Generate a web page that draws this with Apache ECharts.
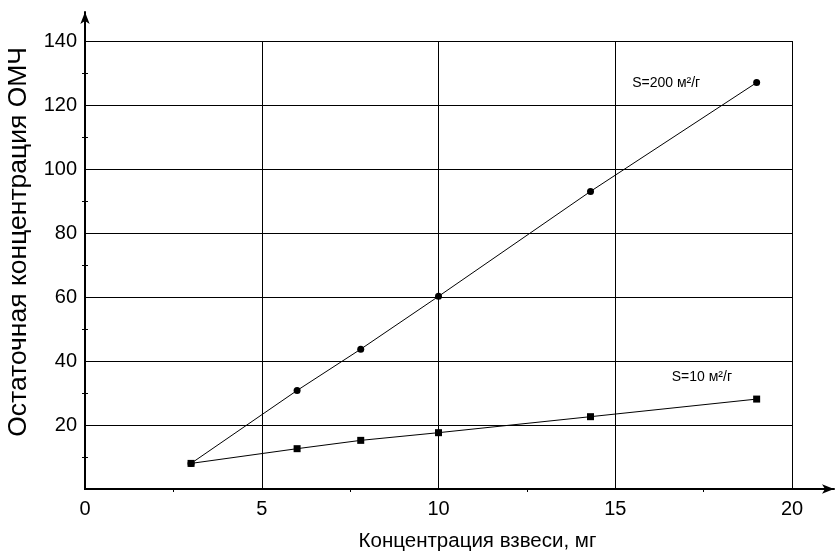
<!DOCTYPE html>
<html><head><meta charset="utf-8">
<script src="https://cdn.jsdelivr.net/npm/echarts@6/dist/echarts.min.js"></script>
<style>html,body{margin:0;padding:0;background:#fff}#c{width:836px;height:552px}</style>
</head><body><div id="c"></div>
<script>
const xValues = [3, 6, 7.8, 10, 14.3, 19];
const s200 = [8, 30.8, 43.7, 60.2, 93, 127];
const s10 = [8, 12.6, 15.2, 17.6, 22.6, 28.1];
const seriesNames = ['S=200 м²/г', 'S=10 м²/г'];
const xTitle = 'Концентрация взвеси, мг';
const yTitle = 'Остаточная концентрация ОМЧ';

const F = '"Liberation Sans", Arial, sans-serif';
const chart = echarts.init(document.getElementById('c'));
const lineStyle = {color: '#000', width: 1};
const hidden = {show: false};
const minor = {show: true, splitNumber: 2, length: 3, lineStyle: {color: '#000'}};
function tag(coord, text) {
  return {
    symbol: 'rect', symbolSize: 1, itemStyle: {color: 'rgba(0,0,0,0)'},
    data: [{coord, label: {show: true, position: 'inside', formatter: text,
            color: '#000', fontSize: 14, fontFamily: F}}]
  };
}
chart.setOption({
  animation: false,
  backgroundColor: '#fff',
  grid: [
    {left: 85, top: 41, width: 707, height: 448, outerBoundsMode: 'none', containLabel: false},
    {left: 85, top: 12, right: 2, bottom: 63, outerBoundsMode: 'none', containLabel: false}
  ],
  xAxis: [
    {gridIndex: 0, type: 'value', min: 0, max: 20, interval: 5,
     axisLine: {show: true, lineStyle: {color: '#000', width: 2}},
     axisTick: {show: false},
     minorTick: Object.assign({inside: true}, minor),
     axisLabel: {color: '#000', fontSize: 20, fontFamily: F, margin: 10},
     splitLine: {show: true, lineStyle: {color: '#000', width: 1}},
     name: xTitle, nameLocation: 'middle', nameGap: 42,
     nameTextStyle: {color: '#000', fontSize: 20.5, fontFamily: F, padding: [0, 0, 0, 78]}},
    {gridIndex: 0, type: 'value', min: 0, max: 20, interval: 5, position: 'top',
     axisLine: {show: true, lineStyle: {color: '#000', width: 2}},
     axisTick: hidden, axisLabel: hidden, splitLine: hidden},
    {gridIndex: 1, type: 'value', min: 0, max: 1,
     axisLine: {show: true, symbol: ['none', 'arrow'], symbolSize: [7, 12], lineStyle: {color: '#000', width: 2}},
     axisTick: hidden, axisLabel: hidden, splitLine: hidden}
  ],
  yAxis: [
    {gridIndex: 0, type: 'value', min: 0, max: 140, interval: 20,
     axisLine: {show: true, lineStyle: {color: '#000', width: 2}},
     axisTick: {show: false},
     minorTick: Object.assign({inside: true}, minor),
     axisLabel: {color: '#000', fontSize: 20, fontFamily: F, margin: 8,
                 formatter: v => v === 0 ? '' : String(v)},
     splitLine: {show: true, lineStyle: {color: '#000', width: 1}},
     name: yTitle, nameLocation: 'middle', nameGap: 53, nameRotate: 90,
     nameTextStyle: {color: '#000', fontSize: 26.5, fontFamily: F, padding: [0, 0, 0, 46]}},
    {gridIndex: 0, type: 'value', min: 0, max: 140, interval: 20, position: 'right',
     axisLine: {show: true, lineStyle: {color: '#000', width: 2}},
     axisTick: hidden,
     minorTick: minor,
     axisLabel: hidden, splitLine: hidden},
    {gridIndex: 1, type: 'value', min: 0, max: 1,
     axisLine: {show: true, symbol: ['none', 'arrow'], symbolSize: [7, 12], lineStyle: {color: '#000', width: 2}},
     axisTick: hidden, axisLabel: hidden, splitLine: hidden}
  ],
  series: [
    {name: seriesNames[0], type: 'line', xAxisIndex: 0, yAxisIndex: 0,
     data: xValues.map((x, i) => [x, s200[i]]),
     symbol: 'circle', symbolSize: 7, lineStyle, itemStyle: {color: '#000'},
     markPoint: tag([16.44, 126.9], seriesNames[0])},
    {name: seriesNames[1], type: 'line', xAxisIndex: 0, yAxisIndex: 0,
     data: xValues.map((x, i) => [x, s10[i]]),
     symbol: 'rect', symbolSize: 7, lineStyle, itemStyle: {color: '#000'},
     markPoint: tag([17.45, 35], seriesNames[1])}
  ]
});
</script></body></html>
